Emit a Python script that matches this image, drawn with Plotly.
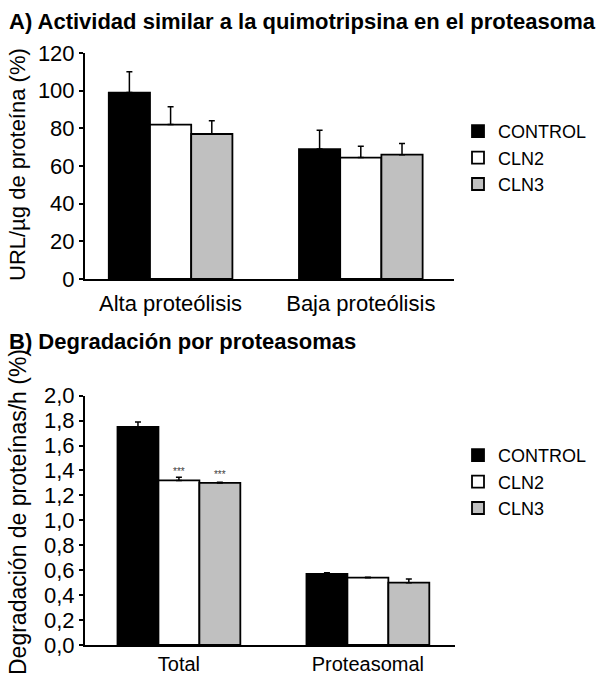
import plotly.graph_objects as go

# Categories and series
groups_a = ["Alta proteólisis", "Baja proteólisis"]
groups_b = ["Total", "Proteasomal"]
series = ["CONTROL", "CLN2", "CLN3"]
fill_colors = ["#000000", "#FFFFFF", "#C0C0C0"]

# A) chymotrypsin-like activity (%), mean and upper error
control_a = [99, 69]
cln2_a = [82, 64.5]
cln3_a = [77, 66]
control_a_err = [11, 10]
cln2_a_err = [9.5, 6]
cln3_a_err = [7, 6]

# B) degradation by proteasomes (%/h), mean and upper error
control_b = [1.75, 0.57]
cln2_b = [1.32, 0.54]
cln3_b = [1.30, 0.50]
control_b_err = [0.04, 0.01]
cln2_b_err = [0.025, 0.004]
cln3_b_err = [0.005, 0.03]
cln2_b_sig = ["***", ""]
cln3_b_sig = ["***", ""]

FONT = "Arial, Liberation Sans, sans-serif"
W, H = 608, 674

fig = go.Figure()

values_a = [control_a, cln2_a, cln3_a]
errors_a = [control_a_err, cln2_a_err, cln3_a_err]
for name, color, vals, errs in zip(series, fill_colors, values_a, errors_a):
    fig.add_trace(go.Bar(
        x=groups_a, y=vals, name=name, xaxis="x", yaxis="y",
        marker=dict(color=color, line=dict(color="#000000", width=1.8)),
        error_y=dict(type="data", symmetric=False, array=errs,
                     arrayminus=[0] * len(errs), color="#000000",
                     thickness=1.5, width=3),
        legend="legend", offsetgroup=name,
    ))

values_b = [control_b, cln2_b, cln3_b]
errors_b = [control_b_err, cln2_b_err, cln3_b_err]
texts_b = [["", ""], cln2_b_sig, cln3_b_sig]
for name, color, vals, errs, txt in zip(series, fill_colors, values_b, errors_b, texts_b):
    fig.add_trace(go.Bar(
        x=groups_b, y=vals, name=name, xaxis="x2", yaxis="y2",
        marker=dict(color=color, line=dict(color="#000000", width=1.8)),
        error_y=dict(type="data", symmetric=False, array=errs,
                     arrayminus=[0] * len(errs), color="#000000",
                     thickness=1.5, width=3),
        text=txt, textposition="outside", cliponaxis=False,
        outsidetextfont=dict(family=FONT, size=10, color="#404040"),
        legend="legend2", offsetgroup=name,
    ))


def px_x(p):
    return p / W


def px_y(p):
    return 1 - p / H


axis_common = dict(
    showline=True, linecolor="#000000", linewidth=2, showgrid=False,
    zeroline=False, automargin=False,
)
xtick_font = dict(family=FONT, size=22, color="#000000")
xtick_font_b = dict(family=FONT, size=20, color="#000000")
ytick_font = dict(family=FONT, size=22, color="#000000")
legend_font = dict(family=FONT, size=18, color="#000000")

fig.update_layout(
    width=W, height=H,
    margin=dict(l=0, r=0, t=0, b=0),
    paper_bgcolor="#FFFFFF", plot_bgcolor="#FFFFFF",
    barmode="group", bargap=0.35, bargroupgap=0,
    separators=", ",
    font=dict(family=FONT, color="#000000"),
    xaxis=dict(domain=[px_x(85), px_x(454)], anchor="y", range=[-0.45, 1.49],
               ticks="", ticklabelstandoff=4, tickfont=xtick_font, **axis_common),
    yaxis=dict(domain=[px_y(279), px_y(53)], anchor="x", range=[0, 120],
               dtick=20, ticks="outside", ticklen=4, tickwidth=1.5,
               tickcolor="#000000", tickfont=ytick_font, **axis_common),
    xaxis2=dict(domain=[px_x(85), px_x(455)], anchor="y2", range=[-0.497, 1.461],
                ticks="", ticklabelstandoff=0, tickfont=xtick_font_b, **axis_common),
    yaxis2=dict(domain=[px_y(645), px_y(395.7)], anchor="x2", range=[0, 2.0],
                dtick=0.2, tickformat=".1f", ticks="outside", ticklen=4,
                tickwidth=1.5, tickcolor="#000000", tickfont=ytick_font,
                **axis_common),
    legend=dict(x=px_x(458), y=px_y(113), xanchor="left", yanchor="top",
                font=legend_font, bgcolor="rgba(0,0,0,0)",
                tracegroupgap=0, itemwidth=30),
    legend2=dict(x=px_x(458), y=px_y(437), xanchor="left", yanchor="top",
                 font=legend_font, bgcolor="rgba(0,0,0,0)",
                 tracegroupgap=0, itemwidth=30),
    annotations=[
        dict(text="<b>A) Actividad similar a la quimotripsina en el proteasoma</b>",
             xref="paper", yref="paper", x=px_x(7), y=px_y(21),
             xanchor="left", yanchor="middle", showarrow=False,
             font=dict(family=FONT, size=22, color="#000000")),
        dict(text="<b>B) Degradación por proteasomas</b>",
             xref="paper", yref="paper", x=px_x(7), y=px_y(341),
             xanchor="left", yanchor="middle", showarrow=False,
             font=dict(family=FONT, size=22, color="#000000")),
        dict(text="URL/µg de proteína (%)", textangle=-90,
             xref="paper", yref="paper", x=px_x(18), y=px_y(165),
             xanchor="center", yanchor="middle", showarrow=False,
             font=dict(family=FONT, size=22, color="#000000")),
        dict(text="Degradación de proteínas/h (%)", textangle=-90,
             xref="paper", yref="paper", x=px_x(18), y=px_y(512),
             xanchor="center", yanchor="middle", showarrow=False,
             font=dict(family=FONT, size=23, color="#000000")),
    ],
)

fig.write_html("out.html")
